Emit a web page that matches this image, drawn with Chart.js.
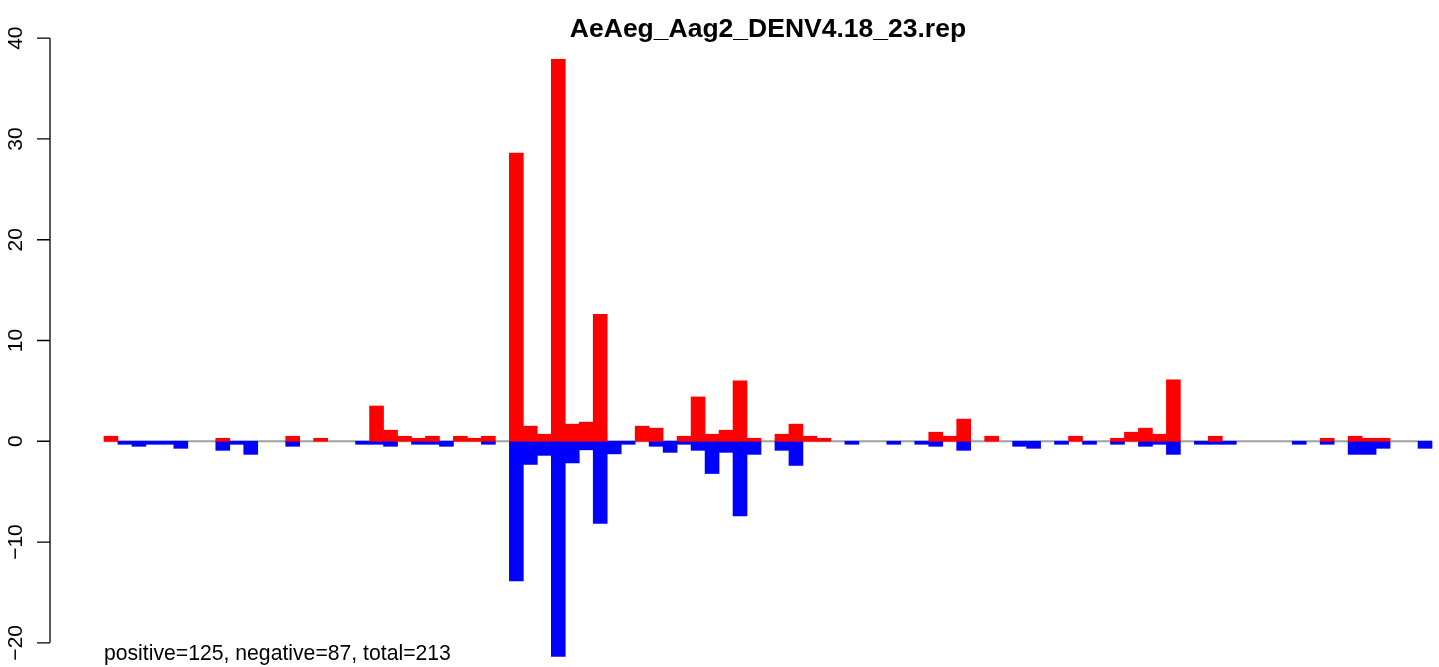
<!DOCTYPE html>
<html>
<head>
<meta charset="utf-8">
<script src="https://cdn.jsdelivr.net/npm/chart.js@4"></script>
<style>
  html, body { margin: 0; padding: 0; background: #fff; }
</style>
</head>
<body>
<canvas id="chart" width="1439" height="667"></canvas>
<script>
// Chart text
const chartTitle = 'AeAeg_Aag2_DENV4.18_23.rep';
const footnote = 'positive=125, negative=87, total=213';

// Per-bin values (95 bins, left to right)
const positive = [
  0.5, 0, 0, 0, 0, 0, 0, 0, 0.3, 0,
  0, 0, 0, 0.5, 0, 0.3, 0, 0, 0, 3.5,
  1.1, 0.5, 0.3, 0.5, 0, 0.5, 0.3, 0.5, 0, 28.6,
  1.5, 0.7, 37.9, 1.7, 1.9, 12.6, 0, 0, 1.5, 1.3,
  0, 0.5, 4.4, 0.7, 1.1, 6.0, 0.3, 0, 0.7, 1.7,
  0.5, 0.3, 0, 0, 0, 0, 0, 0, 0, 0.9,
  0.5, 2.2, 0, 0.5, 0, 0, 0, 0, 0, 0.5,
  0, 0, 0.3, 0.9, 1.3, 0.7, 6.1, 0, 0, 0.5,
  0, 0, 0, 0, 0, 0, 0, 0.3, 0, 0.5,
  0.3, 0.3, 0, 0, 0
];
const negative = [
  0, -0.3, -0.5, -0.3, -0.3, -0.7, 0, 0, -0.9, -0.3,
  -1.3, 0, 0, -0.5, 0, 0, 0, 0, -0.3, -0.3,
  -0.5, 0, -0.3, -0.3, -0.5, 0, 0, -0.3, 0, -13.85,
  -2.3, -1.4, -21.35, -2.15, -0.85, -8.15, -1.25, -0.3, 0, -0.5,
  -1.1, -0.3, -0.9, -3.2, -1.1, -7.4, -1.3, 0, -0.9, -2.4,
  0, 0, 0, -0.3, 0, 0, -0.3, 0, -0.3, -0.5,
  0, -0.9, 0, 0, 0, -0.5, -0.7, 0, -0.3, 0,
  -0.3, 0, -0.3, 0, -0.5, -0.3, -1.3, 0, -0.3, -0.3,
  -0.3, 0, 0, 0, 0, -0.3, 0, -0.3, 0, -1.3,
  -1.3, -0.7, 0, 0, -0.7
];
const yTicks = [-20, -10, 0, 10, 20, 30, 40];

// bins sit at i+0.5 so each bar fills [i, i+1]
function toPoints(values) {
  return values.map((v, i) => ({ x: i + 0.5, y: v === 0 ? null : v }));
}

// R-style look: left axis, grey zero line, title and footnote
const rStyle = {
  id: 'rStyle',
  beforeDatasetsDraw(chart) {
    const ctx = chart.ctx;
    const x = chart.scales.x, y = chart.scales.y;
    ctx.save();
    ctx.strokeStyle = '#a0a0a0';
    ctx.lineWidth = 2;
    ctx.beginPath();
    ctx.moveTo(x.getPixelForValue(0), y.getPixelForValue(0));
    ctx.lineTo(x.getPixelForValue(positive.length), y.getPixelForValue(0));
    ctx.stroke();
    ctx.restore();
  },
  afterDraw(chart) {
    const ctx = chart.ctx;
    const x = chart.scales.x, y = chart.scales.y;
    const left = chart.chartArea.left;
    ctx.save();
    ctx.strokeStyle = '#000';
    ctx.lineWidth = 1.3;
    ctx.beginPath();
    ctx.moveTo(left, y.getPixelForValue(yTicks[0]));
    ctx.lineTo(left, y.getPixelForValue(yTicks[yTicks.length - 1]));
    yTicks.forEach(t => {
      ctx.moveTo(left - 13, y.getPixelForValue(t));
      ctx.lineTo(left, y.getPixelForValue(t));
    });
    ctx.stroke();

    ctx.fillStyle = '#000';
    ctx.font = '21px "Liberation Sans", Arial, sans-serif';
    ctx.textAlign = 'center';
    ctx.textBaseline = 'alphabetic';
    yTicks.forEach(t => {
      ctx.save();
      ctx.translate(22, y.getPixelForValue(t));
      ctx.rotate(-Math.PI / 2);
      ctx.fillText(String(t).replace('-', '\u2212'), 0, 0);
      ctx.restore();
    });

    ctx.font = 'bold 26.5px "Liberation Sans", Arial, sans-serif';
    ctx.fillText(chartTitle, x.getPixelForValue(positive.length / 2), 37);

    ctx.font = '21.2px "Liberation Sans", Arial, sans-serif';
    ctx.textAlign = 'left';
    ctx.fillText(footnote, x.getPixelForValue(0), 660);
    ctx.restore();
  }
};

new Chart(document.getElementById('chart'), {
  type: 'bar',
  data: {
    datasets: [
      { label: 'positive', data: toPoints(positive), backgroundColor: '#ff0000', borderWidth: 0 },
      { label: 'negative', data: toPoints(negative), backgroundColor: '#0000ff', borderWidth: 0 }
    ]
  },
  options: {
    responsive: false,
    animation: false,
    layout: { padding: { left: 50, right: 0, top: 14, bottom: 0 } },
    datasets: { bar: { barPercentage: 1, categoryPercentage: 1 } },
    scales: {
      x: {
        type: 'linear', min: -3.86, max: 95.5, offset: false, stacked: true, display: false,
        ticks: { includeBounds: false, stepSize: 10 }
      },
      y: { min: -22.4, max: 42.4, stacked: true, display: false }
    },
    plugins: { legend: { display: false }, tooltip: { enabled: false } }
  },
  plugins: [rStyle]
});
</script>
</body>
</html>
